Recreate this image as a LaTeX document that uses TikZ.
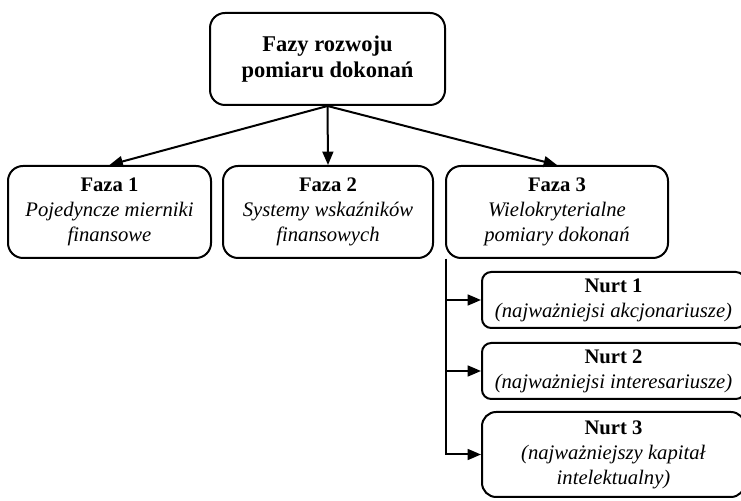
\documentclass[tikz,border=0pt]{standalone}
\usepackage{fontspec}
\setmainfont{Liberation Serif}[ItalicFont={Liberation Serif Italic}, BoldFont={Liberation Serif Bold}, BoldItalicFont={Liberation Serif Bold Italic}]
\usetikzlibrary{arrows.meta, positioning}
\tikzset{
  every picture/.style={font=\fontsize{12.4}{15}\selectfont, line width=1.2pt},
  box/.style={draw=black, rounded corners=9pt, align=center, inner sep=2pt, minimum height=55.2pt},
  arrow/.style={-{Triangle[length=8pt, width=6.5pt]}, draw=black, line width=1.2pt},
}

\begin{document}
\begin{tikzpicture}[x=0.6pt, y=0.6pt,
  nurt/.style={box, rounded corners=5.5pt, minimum width=157.8pt, minimum height=33.6pt}]
  \useasboundingbox (0,0) rectangle (741,500);
  % ---- root and the three phases
  \node[box, minimum width=141pt, font=\fontsize{13.5}{16}\selectfont] (root) at (327.5,441) {\textbf{Fazy rozwoju}\\\textbf{pomiaru dokonań}};
  \node[box, minimum width=121.8pt] (f1) at (109.5,288) {\textbf{Faza 1}\\\textit{Pojedyncze mierniki}\\\textit{finansowe}};
  \node[box, minimum width=126pt] (f2) at (328,288) {\textbf{Faza 2}\\\textit{Systemy wskaźników}\\\textit{finansowych}};
  \node[box, minimum width=133.2pt] (f3) at (557,288) {\textbf{Faza 3}\\\textit{Wielokryterialne}\\\textit{pomiary dokonań}};
  \foreach \f in {f1,f2,f3} \draw[arrow] (root.south) -- (\f.north);
  % ---- streams of phase 3
  \node[nurt] (n1) at (613.5,200) {\textbf{Nurt 1}\\\textit{(najważniejsi akcjonariusze)}};
  \node[nurt] (n2) at (613.5,129) {\textbf{Nurt 2}\\\textit{(najważniejsi interesariusze)}};
  \node[nurt, rounded corners=8.5pt, minimum height=51pt] (n3) at (613.5,45.5) {\textbf{Nurt 3}\\\textit{(najważniejszy kapitał}\\\textit{intelektualny)}};
  \foreach \n in {n1,n2,n3} \draw[arrow] ([xshift=0.6pt]f3.south west) |- (\n.west);
\end{tikzpicture}
\end{document}
